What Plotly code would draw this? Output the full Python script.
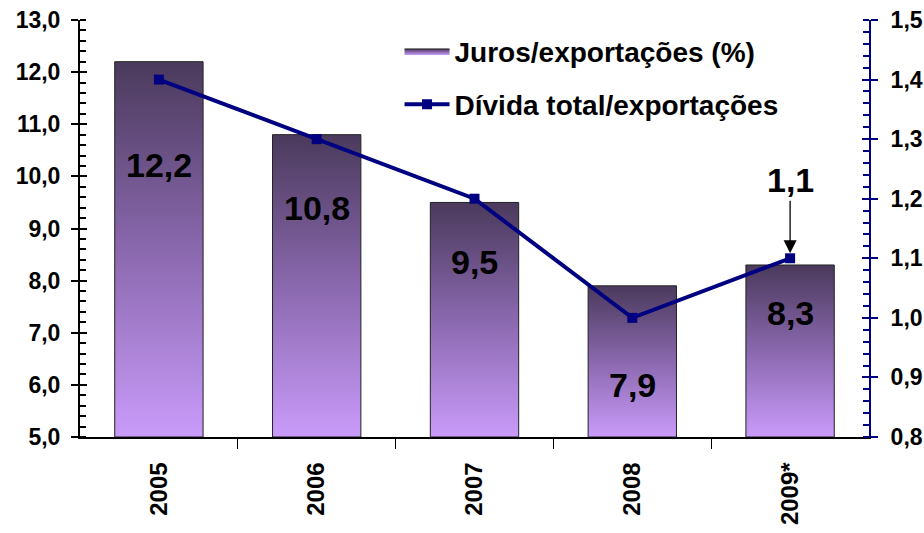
import plotly.graph_objects as go

# ---- data ----
categories = ["2005", "2006", "2007", "2008", "2009*"]
juros_export = [12.2, 10.8, 9.5, 7.9, 8.3]          # left axis (%)
divida_export = [1.4, 1.3, 1.2, 1.0, 1.1]           # right axis
highlight_label = "1,1"

# ---- style / positions ----
label_y = [10.22, 9.39, 8.36, 6.0, 7.38]            # y position of in-bar labels
bar_half_width = 0.28
y_left_range = [5, 13]
y_right_range = [0.8, 1.5]
NAVY = "#000080"
DARK = "#4a3a5c"
MID = "#8a68ae"
LIGHT = "#c99bfa"
FONT = "Liberation Sans, Arial, sans-serif"

fig = go.Figure()

# gradient bars (drawn as filled shapes through the axis scales)
for i, (cat, v) in enumerate(zip(categories, juros_export)):
    x0, x1 = i - bar_half_width, i + bar_half_width
    base = y_left_range[0]
    fig.add_trace(go.Scatter(
        x=[x0, x0, x1, x1, x0], y=[base, v, v, base, base],
        mode="lines", fill="toself",
        line=dict(color="#222222", width=1),
        fillgradient=dict(type="vertical", colorscale=[[0, LIGHT], [0.5, MID], [1, DARK]]),
        name="Juros/exportações (%)", legendgroup="bars",
        showlegend=(i == 0), hoverinfo="text",
        text=f"{cat}: {v:.1f}".replace(".", ","),
    ))

# line on secondary axis
fig.add_trace(go.Scatter(
    x=list(range(len(categories))), y=divida_export, yaxis="y2",
    mode="lines+markers", name="Dívida total/exportações", legendgroup="line",
    line=dict(color=NAVY, width=4),
    marker=dict(symbol="square", size=10, color=NAVY),
))

# invisible helper traces so the inner tick axes get drawn
fig.add_trace(go.Scatter(x=list(range(len(categories))), y=juros_export, yaxis="y3",
                         mode="markers", marker=dict(opacity=0), showlegend=False, hoverinfo="skip"))
fig.add_trace(go.Scatter(x=list(range(len(categories))), y=divida_export, yaxis="y4",
                         mode="markers", marker=dict(opacity=0), showlegend=False, hoverinfo="skip"))

# in-bar labels
for i, (v, ly) in enumerate(zip(juros_export, label_y)):
    fig.add_annotation(x=i, y=ly, xref="x", yref="y", text=f"{v:.1f}".replace(".", ","),
                       showarrow=False, font=dict(family=FONT, size=34, color="black", weight="bold"))

# highlight annotation with arrow
fig.add_annotation(x=len(categories) - 1, y=divida_export[-1], xref="x", yref="y2",
                   text=highlight_label, showarrow=True, ax=0, ay=-78,
                   arrowhead=2, arrowsize=2, arrowwidth=1.3, arrowcolor="black", standoff=5,
                   font=dict(family=FONT, size=34, color="black", weight="bold"))

tickfont = dict(family=FONT, size=23, color="black", weight="bold")

fig.update_layout(
    width=924, height=533,
    margin=dict(l=80, r=55, t=20, b=96, autoexpand=False),
    paper_bgcolor="white", plot_bgcolor="white",
    separators=",.",
    font=dict(family=FONT),
    xaxis=dict(
        range=[-0.5, len(categories) - 0.5], tickmode="array",
        tickvals=list(range(len(categories))), ticktext=categories,
        tickangle=-90, ticks="", tickfont=dict(family=FONT, size=24, color="black", weight="bold"),
        showgrid=False, zeroline=False, showline=True, linecolor="black", linewidth=1.5,
        ticklabelstandoff=14, automargin=False,
        minor=dict(tickmode="array", tickvals=[i + 0.5 for i in range(len(categories) - 1)],
                   ticks="outside", ticklen=10, tickwidth=1, tickcolor="black"),
        fixedrange=True,
    ),
    yaxis=dict(
        range=y_left_range, dtick=1, tickformat=".1f", ticks="outside", ticklen=7,
        tickwidth=2, tickcolor="black", showline=True, linecolor="black", linewidth=2,
        showgrid=False, zeroline=False, tickfont=tickfont, ticklabelstandoff=6,
        automargin=False, ticklabeloverflow="allow",
        minor=dict(dtick=0.2, ticks="inside", ticklen=6, tickwidth=2, tickcolor="black"),
    ),
    yaxis3=dict(
        range=y_left_range, overlaying="y", side="left", anchor="x", dtick=1, ticks="inside",
        ticklen=7, tickwidth=2, tickcolor="black", showticklabels=False,
        showgrid=False, zeroline=False, showline=False, automargin=False,
    ),
    yaxis2=dict(
        range=y_right_range, overlaying="y", side="right", anchor="x", dtick=0.1, tickformat=".1f",
        ticks="outside", ticklen=7, tickwidth=2, tickcolor=NAVY, showline=True,
        linecolor=NAVY, linewidth=2, showgrid=False, zeroline=False, tickfont=tickfont,
        ticklabelstandoff=8, automargin=False, ticklabeloverflow="allow",
        minor=dict(dtick=0.02, ticks="inside", ticklen=6, tickwidth=2, tickcolor=NAVY),
    ),
    yaxis4=dict(
        range=y_right_range, overlaying="y", side="right", anchor="x", dtick=0.1, ticks="inside",
        ticklen=7, tickwidth=2, tickcolor=NAVY, showticklabels=False,
        showgrid=False, zeroline=False, showline=False, automargin=False,
    ),
    legend=dict(
        x=0.405, y=0.985, xanchor="left", yanchor="top",
        bgcolor="rgba(0,0,0,0)", traceorder="grouped", tracegroupgap=14,
        itemwidth=45, font=dict(family=FONT, size=28, color="black", weight="bold"),
    ),
    showlegend=True,
)

fig.write_html("out.html", config={"displayModeBar": False},
               post_script="document.body.style.margin='0';document.body.style.overflow='hidden';")
